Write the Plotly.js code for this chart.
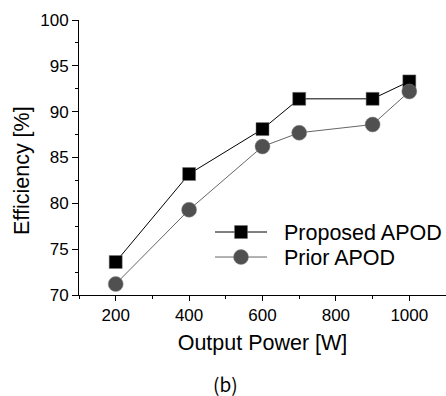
<!DOCTYPE html>
<html>
<head>
<meta charset="utf-8">
<script src="https://cdn.plot.ly/plotly-3.0.1.min.js"></script>
<style>html,body{margin:0;padding:0;background:#fff;}#chart{width:446px;height:396px;}</style>
</head>
<body>
<div id="chart"></div>
<script>
const outputPower = [200, 400, 600, 700, 900, 1000];
const proposedAPOD = [73.6, 83.2, 88.1, 91.4, 91.4, 93.3];
const priorAPOD = [71.2, 79.3, 86.2, 87.7, 88.6, 92.2];
const xTicks = [200, 400, 600, 800, 1000];
const yTicks = [70, 75, 80, 85, 90, 95, 100];
const seriesNames = ["Proposed APOD", "Prior APOD"];

const font = "Liberation Sans, Arial, sans-serif";
const pad = "\u00A0\u00A0";

const traces = [
  {
    x: outputPower, y: proposedAPOD, name: pad + seriesNames[0], type: "scatter", mode: "lines+markers",
    line: {color: "#000000", width: 1},
    marker: {symbol: "square", size: 13, color: "#000000", line: {color: "#777", width: 0.5}},
    legend: "legend"
  },
  {
    x: outputPower, y: priorAPOD, name: pad + seriesNames[1], type: "scatter", mode: "lines+markers",
    line: {color: "#666666", width: 1},
    marker: {symbol: "circle", size: 15, color: "#505050", line: {color: "#888", width: 0.5}},
    legend: "legend2"
  }
];

const legendStyle = (y) => ({
  x: 0.357, y: y, xanchor: "left", yanchor: "middle",
  font: {family: font, size: 21.5, color: "#000"},
  bgcolor: "rgba(0,0,0,0)", itemwidth: 52, borderwidth: 0
});

const layout = {
  width: 446, height: 396,
  margin: {l: 79, r: 0, t: 20, b: 101, autoexpand: false},
  paper_bgcolor: "#fff", plot_bgcolor: "#fff",
  showlegend: true,
  legend: legendStyle(0.229),
  legend2: legendStyle(0.138),
  xaxis: {
    range: [100, 1100], tickvals: xTicks, ticktext: xTicks.map(String),
    showgrid: false, zeroline: false, showline: true, linecolor: "#000", linewidth: 1,
    ticks: "outside", ticklen: 5, tickcolor: "#000", tickwidth: 1,
    minor: {dtick: 100, tick0: 100, ticks: "outside", ticklen: 3, tickcolor: "#000", showgrid: false},
    tickfont: {family: font, size: 17, color: "#000"},
    title: {text: "Output Power [W]", font: {family: font, size: 21.5, color: "#000"}, standoff: 10}
  },
  yaxis: {
    range: [70, 100], tickvals: yTicks, ticktext: yTicks.map(String),
    showgrid: false, zeroline: false, showline: true, linecolor: "#000", linewidth: 1,
    ticks: "outside", ticklen: 6, tickcolor: "#000", tickwidth: 1,
    minor: {dtick: 2.5, tick0: 70, ticks: "outside", ticklen: 3, tickcolor: "#000", showgrid: false},
    tickfont: {family: font, size: 17, color: "#000"}
  },
  annotations: [
    {text: "Efficiency [%]", xref: "paper", yref: "paper", x: 0, y: 0.451, xshift: -57,
     xanchor: "center", yanchor: "middle", textangle: -90, showarrow: false,
     font: {family: font, size: 21.5, color: "#000"}},
    {text: "(b)", xref: "paper", yref: "paper", x: 0.4, y: -0.32, xanchor: "center", yanchor: "middle",
     showarrow: false, font: {family: "Noto Sans CJK KR, DejaVu Sans, sans-serif", size: 19, color: "#000"}}
  ]
};

Plotly.newPlot("chart", traces, layout, {displayModeBar: false, staticPlot: true});
</script>
</body>
</html>
